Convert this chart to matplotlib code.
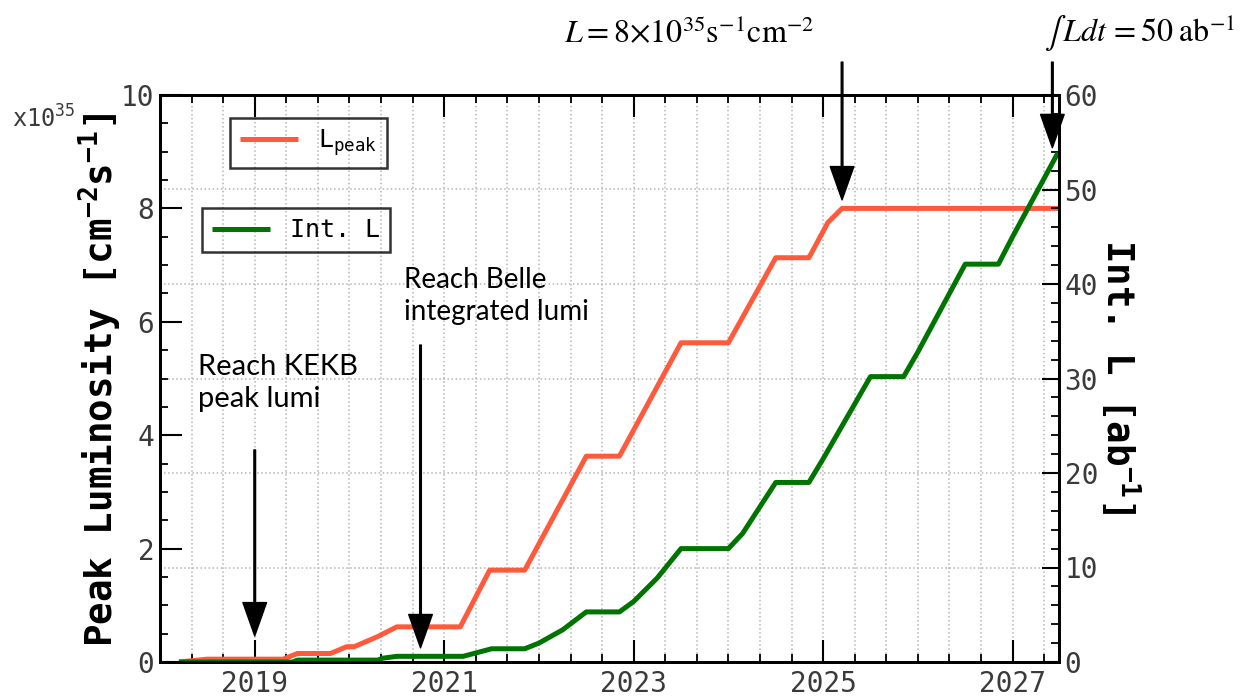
import matplotlib
matplotlib.use('Agg')
import matplotlib.pyplot as plt
from matplotlib.ticker import MultipleLocator

plt.rcParams['mathtext.fontset'] = 'custom'
plt.rcParams['mathtext.rm'] = 'DejaVu Sans Mono'
plt.rcParams['mathtext.it'] = 'DejaVu Sans Mono'
plt.rcParams['mathtext.bf'] = 'DejaVu Sans Mono:bold'

# peak luminosity [1e35 cm^-2 s^-1]
peak_year = [2018.2, 2018.5, 2019.3, 2019.45, 2019.8, 2019.97, 2020.05, 2020.3, 2020.5,
             2021.17, 2021.48, 2021.85, 2022.5, 2022.85, 2023.5, 2024.0, 2024.5,
             2024.85, 2025.05, 2025.2, 2027.49]
peak_lumi = [0.0, 0.05, 0.05, 0.15, 0.15, 0.27, 0.27, 0.45, 0.62,
             0.62, 1.62, 1.62, 3.63, 3.63, 5.63, 5.63, 7.13,
             7.13, 7.75, 8.0, 8.0]

# integrated luminosity [ab^-1]
int_year = [2018.2, 2019.4, 2019.45, 2020.3, 2020.35, 2020.5, 2021.2, 2021.5, 2021.85,
            2022.0, 2022.25, 2022.5, 2022.85, 2023.0, 2023.25, 2023.5, 2024.0,
            2024.15, 2024.5, 2024.85, 2025.0, 2025.5, 2025.85, 2026.0, 2026.5,
            2026.85, 2027.0, 2027.48]
int_lumi = [0.0, 0.0, 0.2, 0.2, 0.4, 0.6, 0.6, 1.4, 1.4,
            2.0, 3.4, 5.3, 5.3, 6.4, 8.9, 12.0, 12.0,
            13.6, 19.0, 19.0, 21.5, 30.2, 30.2, 32.8, 42.1,
            42.1, 45.0, 53.9]

year_labels = [2019, 2021, 2023, 2025, 2027]

red = '#ff5a3c'
green = '#007400'
grey = '#3a3a3a'
mono = 'DejaVu Sans Mono'

fig = plt.figure(figsize=(12.54, 6.96), dpi=100)
ax = fig.add_axes([160 / 1254, 34 / 696, 899 / 1254, 567 / 696])
ax2 = ax.twinx()

l1, = ax.plot(peak_year, peak_lumi, color=red, lw=3.6, solid_capstyle='butt')
l2, = ax2.plot(int_year, int_lumi, color=green, lw=3.6, solid_capstyle='butt')

ax.set_xlim(2018, 2027.49)
ax.set_ylim(0, 10)
ax2.set_ylim(0, 60)

ax.set_xticks(year_labels)
ax.xaxis.set_minor_locator(MultipleLocator(1 / 3))
ax.yaxis.set_major_locator(MultipleLocator(2))
ax.yaxis.set_minor_locator(MultipleLocator(0.5))
ax2.yaxis.set_major_locator(MultipleLocator(10))
ax2.yaxis.set_minor_locator(MultipleLocator(2))

ax.tick_params(axis='x', which='major', direction='in', length=16, width=1.5, top=True, pad=6,
               labelsize=20, labelcolor=grey)
ax.tick_params(axis='x', which='minor', direction='in', length=6, width=1.3, top=True)
ax.tick_params(axis='y', which='major', direction='in', length=16, width=1.5, pad=4,
               labelsize=20, labelcolor=grey)
ax.tick_params(axis='y', which='minor', direction='in', length=6, width=1.3)
ax2.tick_params(axis='y', which='major', direction='in', length=12, width=1.5, pad=4,
                labelsize=20, labelcolor=grey)
ax2.tick_params(axis='y', which='minor', direction='in', length=6, width=1.3)
for lab in ax.get_xticklabels() + ax.get_yticklabels() + ax2.get_yticklabels():
    lab.set_family(mono)

for a in (ax, ax2):
    for s in a.spines.values():
        s.set_linewidth(2)

# grid: vertical on every x tick, horizontal on right axis majors
ax.grid(axis='x', which='both', ls=':', color='#b5b5b5', lw=1.1)
for t in ax2.get_yticks()[1:-1]:
    ax.axhline(t * 10 / 60, ls=':', color='#b5b5b5', lw=1.1, zorder=0.5)

leg_prop = {'family': mono, 'size': 18}
leg1 = ax.legend([l1], [r'L$_{\mathrm{peak}}$'], loc='upper left', bbox_to_anchor=(0.078, 0.96),
                 borderaxespad=0, fancybox=False, edgecolor='k', prop=leg_prop,
                 handlelength=2.3)
leg1.get_frame().set_linewidth(1.8)
leg1.get_frame().set_facecolor('none')
ax.add_artist(leg1)
leg2 = ax.legend([l2], ['Int. L'], loc='upper left', bbox_to_anchor=(0.047, 0.80),
                 borderaxespad=0, fancybox=False, edgecolor='k', prop=leg_prop,
                 handlelength=2.3)
leg2.get_frame().set_linewidth(1.8)
leg2.get_frame().set_facecolor('none')

arrow = dict(facecolor='k', edgecolor='k', width=1.2, headwidth=17, headlength=24)
ax.annotate('', xy=(2019.0, 0.46), xytext=(2019.0, 3.74), arrowprops=arrow)
ax.annotate('', xy=(2020.75, 0.25), xytext=(2020.75, 5.59), arrowprops=arrow)
ax.annotate('', xy=(2025.2, 8.15), xytext=(2025.2, 10.58), arrowprops=arrow,
            annotation_clip=False)
ax.annotate('', xy=(2027.42, 9.07), xytext=(2027.42, 10.58), arrowprops=arrow,
            annotation_clip=False)

ax.text(2018.4, 5.43, 'Reach KEKB\npeak lumi', family='Lato', fontsize=21,
        va='top', ha='left', linespacing=1.3)
ax.text(2020.58, 6.97, 'Reach Belle\nintegrated lumi', family='Lato', fontsize=20,
        va='top', ha='left', linespacing=1.3)

ax.text(2023.59, 11.09, r'$L = 8{\times}10^{35}\mathrm{s}^{-1}\mathrm{cm}^{-2}$',
        math_fontfamily='stix', fontsize=23, ha='center', va='center', clip_on=False)
ax.text(2028.34, 11.09, r'$\int\, L dt\, = 50\;\mathrm{ab}^{-1}$',
        math_fontfamily='stix', fontsize=23, ha='center', va='center', clip_on=False)

fig.text(100 / 1254, 0.454, r'Peak Luminosity [cm$^{\mathbf{-2}}$s$^{\mathbf{-1}}$]',
         family=mono, fontweight='bold', fontsize=27, rotation=90, ha='center', va='center')
fig.text(1120 / 1254, 0.458, r'Int. L [ab$^{\mathbf{-1}}$]',
         family=mono, fontweight='bold', fontsize=27, rotation=270, ha='center', va='center')
fig.text(12 / 1254, 1 - 128 / 696, r'x10$^{35}$', family=mono, fontsize=17, color=grey,
         ha='left', va='baseline')

fig.savefig('out.png', dpi=100)
